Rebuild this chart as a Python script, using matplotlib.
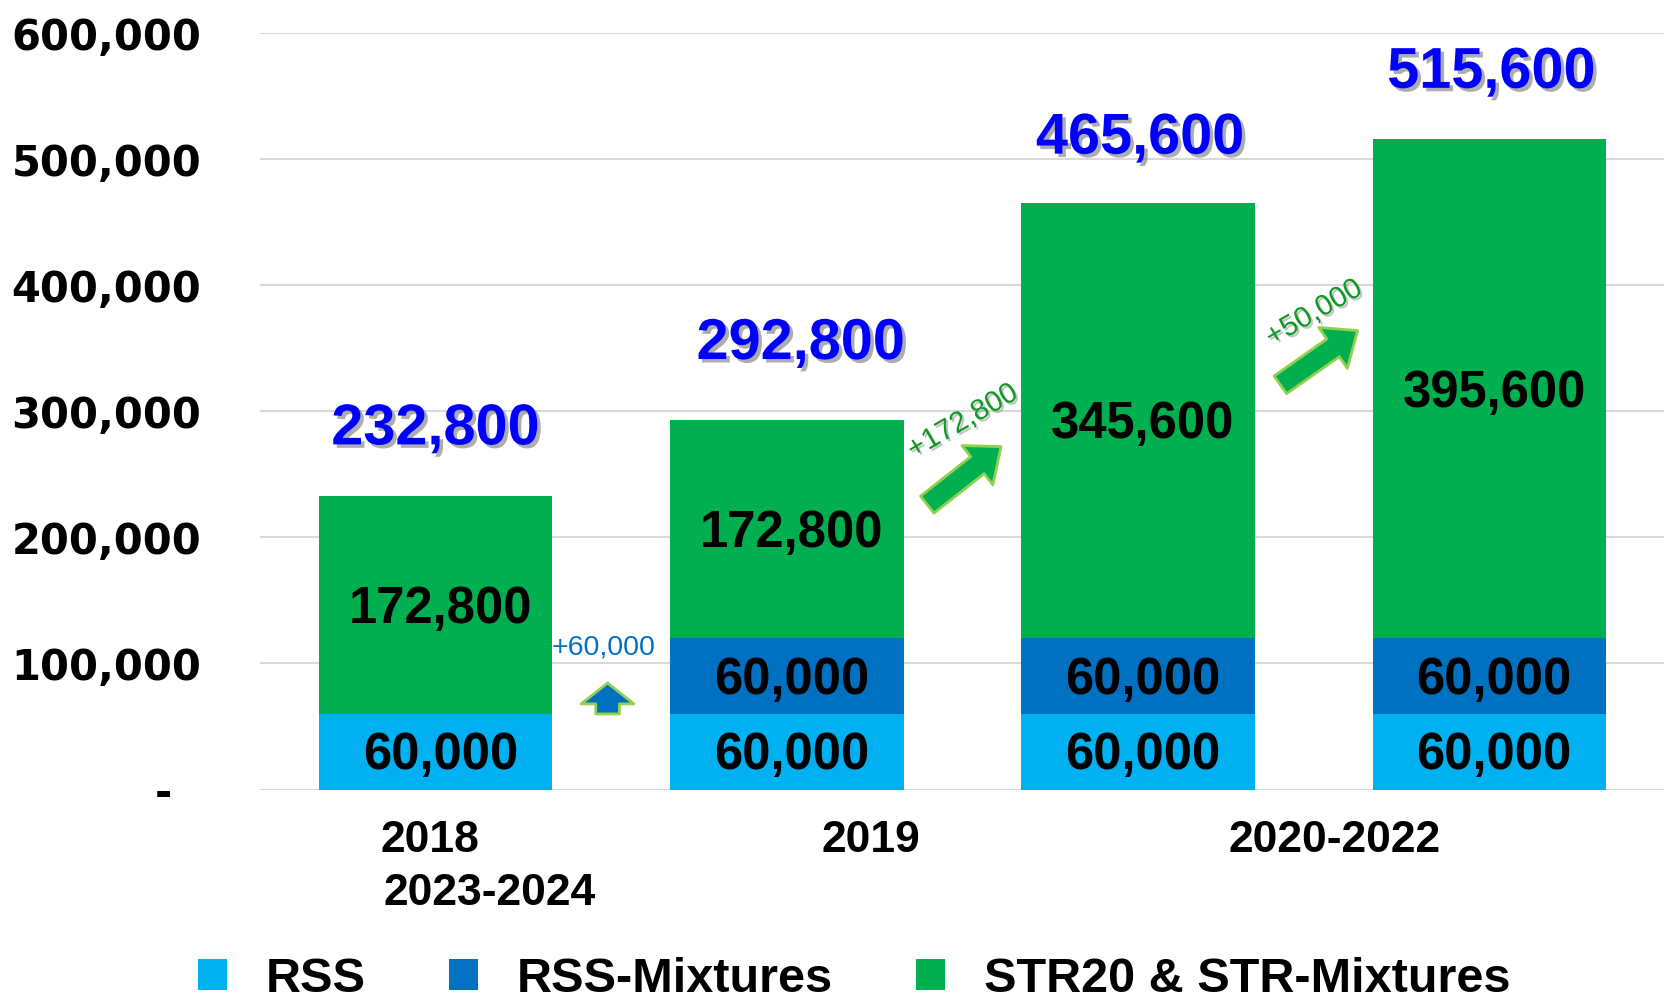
import numpy as np
import matplotlib
matplotlib.use('Agg')
import matplotlib.pyplot as plt
import matplotlib.patheffects as pe

# 数据
categories = ['2018', '2019', '2020-2022', '2023-2024']
series_names = ['RSS', 'RSS-Mixtures', 'STR20 & STR-Mixtures']
rss = [60000, 60000, 60000, 60000]
rss_mix = [0, 60000, 60000, 60000]
str20 = [172800, 172800, 345600, 395600]
increments = ['+60,000', '+172,800', '+50,000']
y_ticks = [0, 100000, 200000, 300000, 400000, 500000, 600000]

colors = ['#00B0F0', '#0070C0', '#00B050']

fig = plt.figure(figsize=(16.65, 10.02), dpi=100)
ax = fig.add_axes([0.156, 0.212, 0.844, 0.755])

x = np.arange(len(categories))
w = 0.665
rss = np.array(rss)
rss_mix = np.array(rss_mix)
str20 = np.array(str20)
totals = rss + rss_mix + str20

b1 = ax.bar(x, rss, w, color=colors[0], label=series_names[0], zorder=2)
b2 = ax.bar(x, rss_mix, w, bottom=rss, color=colors[1], label=series_names[1], zorder=2)
b3 = ax.bar(x, str20, w, bottom=rss + rss_mix, color=colors[2], label=series_names[2], zorder=2)

lab_font = dict(family='Liberation Sans', weight='bold', size=36.5, color='black')
for vals, bottoms in [(rss, 0 * rss), (rss_mix, rss), (str20, rss + rss_mix)]:
    for i, v in enumerate(vals):
        if v == 0:
            continue
        ax.annotate(f'{v:,}', (x[i], bottoms[i] + v / 2), xytext=(3.5, -3),
                    textcoords='offset points', ha='center', va='center', zorder=3, **lab_font)

# 总数（标签位置略有不同，照原图）
tot_off = [(0, 48), (10, 55), (1.5, 46), (1.5, 48)]
shadow = [pe.withSimplePatchShadow(offset=(2.5, -2.5), shadow_rgbFace='#777777', alpha=0.6)]
for i, t in enumerate(totals):
    ax.annotate(f'{t:,}', (x[i], t), xytext=tot_off[i], textcoords='offset points',
                ha='center', va='center', family='Liberation Sans', weight='bold',
                size=41.5, color='#0000FF', path_effects=shadow)

# 增量标注与箭头
ax.text(0.48, 113000, increments[0], ha='center', va='center', family='Liberation Sans',
        size=20.5, color='#0070C0')
ax.annotate('', xy=(0.49, 84500), xytext=(0.49, 60000),
            arrowprops=dict(arrowstyle='simple,head_width=1.9,head_length=0.75,tail_width=0.85',
                            fc='#0070C0', ec='#92D050', lw=2, mutation_scale=20,
                            shrinkA=0, shrinkB=0))

gshadow = [pe.withSimplePatchShadow(offset=(1.5, -1.5), shadow_rgbFace='#888888', alpha=0.5)]
ax.text(1.50, 292000, increments[1], ha='center', va='center', family='Liberation Sans',
        size=21, color='#0E9A24', rotation=30, path_effects=gshadow)
ax.text(2.50, 378000, increments[2], ha='center', va='center', family='Liberation Sans',
        size=21, color='#0E9A24', rotation=30, path_effects=gshadow)
for (x0, y0, x1, y1) in [(1.40, 226000, 1.61, 272000), (2.405, 321000, 2.625, 364000)]:
    ax.annotate('', xy=(x1, y1), xytext=(x0, y0),
                arrowprops=dict(arrowstyle='simple,head_width=1.5,head_length=0.9,tail_width=0.65',
                                fc='#00B050', ec='#92D050', lw=2, mutation_scale=24,
                                shrinkA=0, shrinkB=0))

# 坐标轴
ax.set_xlim(-0.5, 3.5)
ax.set_ylim(0, 600000)
ax.set_yticks(y_ticks)
ax.set_yticklabels([f'{v:,}' if v else '-  ' for v in y_ticks],
                   fontfamily='DejaVu Sans', fontweight='bold', fontsize=30)
ax.tick_params(axis='y', length=0, pad=42)
ax.set_xticks([])
ax.grid(axis='y', color='#D9D9D9', lw=1.5, zorder=0)
for s in ax.spines.values():
    s.set_visible(False)

# x轴标签（位置按原图）
xl_font = dict(family='Liberation Sans', weight='bold', size=32, ha='center', va='center',
               transform=ax.get_xaxis_transform())
ax.text(-0.015, -0.067, categories[0], **xl_font)
ax.text(1.24, -0.067, categories[1], **xl_font)
ax.text(2.56, -0.067, categories[2], **xl_font)
ax.text(0.155, -0.137, categories[3], **xl_font)

fig.legend(handles=[b1, b2, b3], loc='center', bbox_to_anchor=(0.513, 0.0225), ncol=3,
           frameon=False, prop=dict(family='Liberation Sans', weight='bold', size=35),
           handlelength=0.6, handleheight=0.6, handletextpad=0.8, columnspacing=1.7)

fig.savefig('out.png', dpi=100)
